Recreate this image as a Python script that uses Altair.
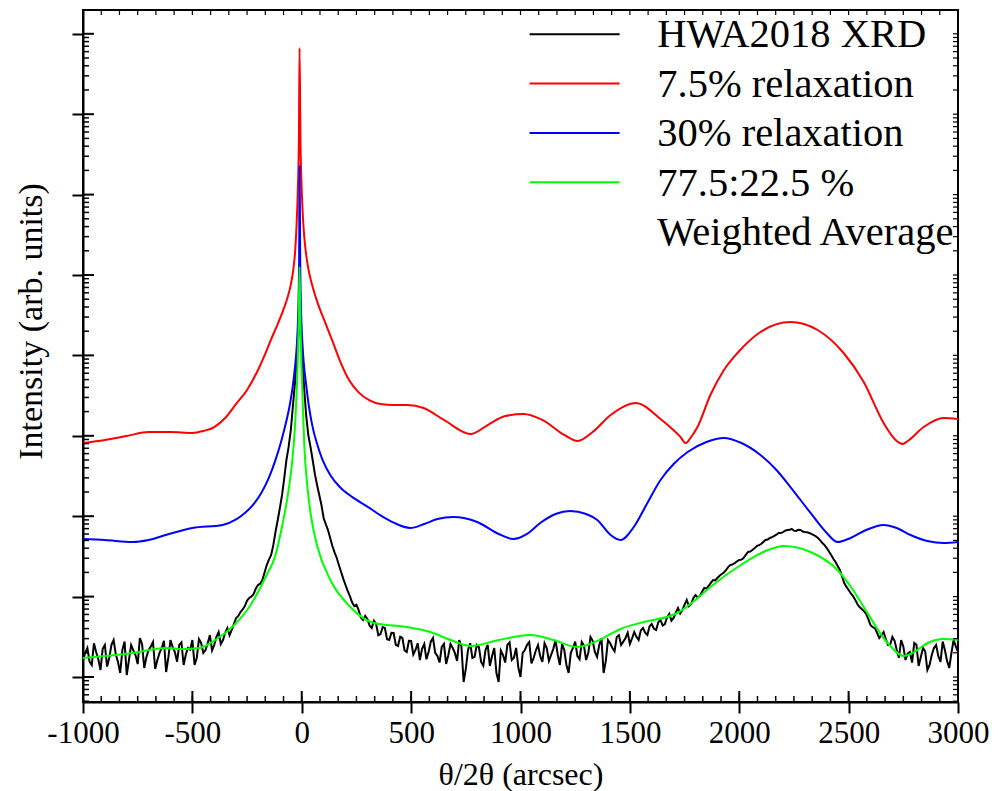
import altair as alt
import pandas as pd

FONT = "Liberation Serif"

# ---------------- data (log10 of intensity, arb. units) ----------------
# measured trace, sampled on even grid points ...
black_x = list(range(-1000, -99, 20)) + list(range(-90, 91, 10)) + list(range(100, 3001, 20))
black_log = [
    1.211, 1.361, 1.149, 1.311, 1.087, 1.398, 1.236, 1.460, 1.187, 1.336,
    1.025, 1.398, 1.274, 1.485, 1.112, 1.336, 1.435, 1.211, 1.361, 1.062,
    1.460, 1.311, 1.398, 1.149, 1.361, 1.460, 1.236, 1.423, 1.336, 1.522,
    1.398, 1.560, 1.460, 1.609, 1.585, 1.734, 1.808, 1.883, 1.983, 2.032,
    2.144, 2.206, 2.393, 2.517, 2.803, 3.102,
    # -90 .. 90
    3.264, 3.475, 3.699, 3.861, 4.072, 4.383, 4.694, 5.067, 5.415, 5.129,
    4.632, 4.259, 4.010, 3.861, 3.699, 3.525, 3.388, 3.264, 3.139,
    # 100 .. 3000
    2.978, 2.828, 2.629, 2.480, 2.306, 2.144, 2.007, 1.883, 1.833, 1.709,
    1.721, 1.609, 1.659, 1.535, 1.609, 1.460, 1.547, 1.386, 1.485, 1.311,
    1.448, 1.336, 1.211, 1.410, 1.311, 1.485, 1.261, 1.373, 1.162, 1.410,
    1.299, 1.460, 0.938, 1.336, 1.236, 1.398, 1.187, 1.336, 1.137, 1.361,
    0.938, 1.274, 1.398, 1.211, 1.361, 1.000, 1.336, 1.435, 1.236, 1.398,
    1.187, 1.361, 1.274, 1.460, 1.149, 1.336, 1.050, 1.361, 1.261, 1.435,
    1.211, 1.498, 1.311, 1.398, 1.050, 1.460, 1.361, 1.498, 1.398, 1.485,
    1.410, 1.560, 1.460, 1.609, 1.522, 1.659, 1.585, 1.709, 1.659, 1.784,
    1.734, 1.858, 1.833, 1.958, 1.908, 2.020, 2.007, 2.107, 2.132, 2.206,
    2.231, 2.281, 2.331, 2.393, 2.418, 2.455, 2.480, 2.555, 2.580, 2.629,
    2.654, 2.704, 2.729, 2.754, 2.791, 2.803, 2.828, 2.841, 2.816, 2.828,
    2.803, 2.791, 2.766, 2.729, 2.667, 2.604, 2.517, 2.430, 2.331, 2.169,
    2.082, 2.007, 1.908, 1.846, 1.784, 1.647, 1.609, 1.485, 1.560, 1.398,
    1.498, 1.336, 1.460, 1.211, 1.311, 1.423, 1.137, 1.361, 1.087, 1.274,
    1.398, 1.187, 1.336, 1.112, 1.460, 1.311,
]
# ... and on the points in between
black_mid_x = list(range(-990, -109, 20)) + list(range(110, 2991, 20))
black_mid_log = [
    1.30, 1.19, 1.42, 1.22, 1.35, 1.13, 1.40, 1.28, 1.05, 1.44,
    1.21, 1.33, 1.16, 1.41, 1.25, 1.38, 1.10, 1.30, 1.45, 1.24,
    1.37, 1.19, 1.43, 1.28, 1.34, 1.15, 1.47, 1.30, 1.42, 1.33,
    1.50, 1.41, 1.55, 1.52, 1.66, 1.76, 1.84, 1.95, 2.00, 2.10,
    2.16, 2.30, 2.46, 2.64, 2.95,
    # 110 .. 2990
    2.90, 2.73, 2.55, 2.39, 2.22, 2.07, 1.93,
    1.90, 1.74, 1.76, 1.64, 1.70, 1.52, 1.62, 1.47, 1.55, 1.40, 1.50, 1.33, 1.45,
    1.28, 1.42, 1.35, 1.22, 1.44, 1.30, 1.18, 1.41, 1.27, 1.36,
    1.20, 1.38, 1.10, 1.42, 1.25, 1.37, 1.14, 1.40, 1.26, 1.05,
    1.33, 1.18, 1.43, 1.24, 1.12, 1.30, 1.40, 1.17, 1.33, 1.26,
    1.42, 1.20, 1.35, 1.28, 1.41, 1.15, 1.30, 1.44, 1.22, 1.39,
    1.30, 1.45, 1.25, 1.48, 1.20, 1.42, 1.32, 1.52, 1.44, 1.55,
    1.48, 1.50, 1.58, 1.55, 1.63, 1.60, 1.68, 1.64, 1.74, 1.70,
    1.80, 1.79, 1.90, 1.88, 1.98, 1.99, 2.06, 2.10, 2.17, 2.20,
    2.26, 2.30, 2.37, 2.40, 2.44, 2.46, 2.52, 2.56, 2.60, 2.64,
    2.68, 2.71, 2.74, 2.77, 2.79, 2.82, 2.83, 2.82, 2.83, 2.81,
    2.80, 2.78, 2.75, 2.70, 2.64, 2.56, 2.47, 2.38, 2.25, 2.12,
    2.04, 1.96, 1.87, 1.82, 1.72, 1.62, 1.55, 1.52, 1.47, 1.40,
    1.45, 1.24, 1.38, 1.29, 1.18, 1.40, 1.25, 1.32, 1.15, 1.36,
    1.26, 1.44, 1.20, 1.30, 1.38,
]

red_x = [-1000, -900, -800, -700, -600, -500, -450, -400, -350, -300,
         -250, -200, -170, -140, -110, -85, -65, -50, -38, -30,
         -24, -18, -13, -10, -6, 0, 8, 18, 30, 45,
         62, 85, 110, 140, 175, 215, 260, 310, 360, 420,
         483, 557, 650, 772, 850, 930, 1015, 1100, 1200, 1261,
         1330, 1412, 1526, 1640, 1700, 1730, 1755, 1780, 1809, 1868,
         1930, 1992, 2097, 2234, 2358, 2477, 2569, 2660, 2720, 2747,
         2770, 2843, 2935, 3000]
red_log = [3.910, 3.948, 3.998, 4.047, 4.047, 4.035, 4.060, 4.109, 4.221, 4.396,
           4.570, 4.818, 5.000, 5.200, 5.390, 5.560, 5.720, 5.880, 6.080, 6.300,
           6.600, 7.050, 7.700, 8.823, 7.700, 7.050, 6.600, 6.300, 6.080, 5.900,
           5.740, 5.560, 5.390, 5.180, 4.930, 4.700, 4.540, 4.440, 4.395, 4.383,
           4.383, 4.346, 4.197, 4.022, 4.134, 4.246, 4.271, 4.197, 4.010, 3.935,
           4.047, 4.259, 4.408, 4.210, 4.070, 3.990, 3.910, 3.985, 4.109, 4.507,
           4.818, 5.030, 5.291, 5.415, 5.316, 5.030, 4.669, 4.159, 3.935, 3.898,
           3.935, 4.109, 4.221, 4.209]

blue_x = [-1000, -900, -773, -700, -622, -500, -362, -300, -260, -220,
          -185, -150, -120, -95, -75, -55, -40, -30, -22, -16,
          -12, -10, -7, -3, 3, 10, 20, 32, 48, 70,
          95, 131, 175, 230, 300, 360, 420, 496, 560, 620,
          693, 802, 900, 967, 1030, 1090, 1160, 1227, 1300, 1351,
          1412, 1457, 1518, 1580, 1640, 1700, 1764, 1850, 1929, 2010,
          2097, 2170, 2234, 2326, 2400, 2449, 2509, 2580, 2660, 2720,
          2783, 2860, 2935, 3000]
blue_log = [2.716, 2.704, 2.679, 2.704, 2.766, 2.853, 2.891, 2.960, 3.040, 3.150,
            3.290, 3.480, 3.700, 3.920, 4.130, 4.380, 4.640, 4.880, 5.150, 5.550,
            6.150, 7.356, 6.150, 5.550, 5.150, 4.880, 4.640, 4.380, 4.130, 3.900,
            3.700, 3.510, 3.360, 3.240, 3.120, 3.010, 2.920, 2.853, 2.903, 2.965,
            2.990, 2.928, 2.779, 2.716, 2.779, 2.915, 3.027, 3.065, 3.027, 2.953,
            2.766, 2.704, 2.866, 3.164, 3.450, 3.649, 3.799, 3.923, 3.973, 3.910,
            3.761, 3.575, 3.363, 3.040, 2.791, 2.679, 2.729, 2.828, 2.891, 2.853,
            2.766, 2.692, 2.667, 2.679]

green_x = [-1000, -900, -773, -622, -545, -467, -395, -318, -240, -165,
           -120, -87, -60, -43, -32, -24, -18, -14, -10, -6,
           -2, 4, 12, 25, 40, 72, 131, 222, 330, 483,
           588, 680, 772, 900, 1046, 1150, 1261, 1360, 1412, 1457,
           1564, 1717, 1800, 1868, 2021, 2120, 2204, 2326, 2449, 2520,
           2569, 2678, 2752, 2800, 2861, 2935, 3000]
green_log = [1.236, 1.261, 1.299, 1.361, 1.348, 1.361, 1.460, 1.622, 1.871, 2.244,
             2.517, 2.915, 3.326, 3.699, 4.072, 4.500, 4.950, 5.400, 6.100, 5.400,
             4.950, 4.450, 3.861, 3.388, 3.040, 2.617, 2.206, 1.871, 1.672, 1.622,
             1.560, 1.460, 1.386, 1.460, 1.522, 1.460, 1.373, 1.460, 1.535, 1.597,
             1.684, 1.796, 1.958, 2.119, 2.418, 2.567, 2.629, 2.555, 2.331, 2.082,
             1.871, 1.423, 1.261, 1.311, 1.423, 1.473, 1.460]

series_names = ["HWA2018 XRD", "7.5% relaxation", "30% relaxation", "77.5:22.5 %"]
series_colors = ["#000000", "#ff0000", "#0000ff", "#00ff00"]
legend_extra = "Weighted Average"

x_tick_values = [-1000, -500, 0, 500, 1000, 1500, 2000, 2500, 3000]
y_decades = [10 ** n for n in range(1, 10)]

# ---------------- scales / axes ----------------
W, H = 875, 692
Y_LO, Y_HI = 10 ** 0.689, 10 ** 9.296

xscale = alt.Scale(domain=[-1000, 3000], nice=False, zero=False)
yscale = alt.Scale(type="log", domain=[Y_LO, Y_HI], nice=False)

xaxis = alt.Axis(values=x_tick_values, title="θ/2θ (arcsec)", tickSize=11, tickWidth=2,
                 tickColor="black", domainColor="black", domainWidth=2, grid=False,
                 labelFont=FONT, labelFontSize=31, labelColor="black", labelPadding=5,
                 labelExpr="'' + datum.value", labelFlush=False, labelOverlap=False,
                 titleFont=FONT, titleFontSize=32, titleFontWeight="normal", titleColor="black",
                 titleY=82, titleBaseline="alphabetic")
yaxis = alt.Axis(values=y_decades, labels=False, title="Intensity (arb. units)", tickSize=11,
                 tickWidth=2, tickColor="black", domainColor="black", domainWidth=2, grid=False,
                 titleFont=FONT, titleFontSize=34, titleFontWeight="normal", titleColor="black",
                 titleAngle=270, titleX=-42, titleY=311, titleBaseline="alphabetic",
                 titleAlign="center")


def series_df(xs, logs):
    df = pd.DataFrame({"x": xs, "intensity": [10 ** v for v in logs]})
    return df.sort_values("x").reset_index(drop=True)


def line_layer(xs, logs, color, interp):
    return alt.Chart(series_df(xs, logs)).mark_line(
        color=color, strokeWidth=2, interpolate=interp, clip=True
    ).encode(
        x=alt.X("x:Q", scale=xscale, axis=xaxis),
        y=alt.Y("intensity:Q", scale=yscale, axis=yaxis),
    )


layers = [
    line_layer(black_x + black_mid_x, black_log + black_mid_log, series_colors[0], "linear"),
    line_layer(red_x, red_log, series_colors[1], "monotone"),
    line_layer(blue_x, blue_log, series_colors[2], "monotone"),
    line_layer(green_x, green_log, series_colors[3], "monotone"),
]

# ---------------- extra (inward / minor) ticks ----------------
y_minor = [m * 10 ** n for n in range(0, 10) for m in range(2, 10) if Y_LO <= m * 10 ** n <= Y_HI]
x_minor = [-1000 + 500 * i / 6 for i in range(49)]


def ytick(vals, x0, x1, w):
    return alt.Chart(pd.DataFrame({"v": vals})).mark_rule(color="black", strokeWidth=w).encode(
        y=alt.Y("v:Q", scale=yscale, axis=yaxis), x=alt.value(x0), x2=alt.value(x1))


def xtick(vals, y0, y1, w):
    return alt.Chart(pd.DataFrame({"v": vals})).mark_rule(color="black", strokeWidth=w).encode(
        x=alt.X("v:Q", scale=xscale, axis=xaxis), y=alt.value(y0), y2=alt.value(y1))


layers += [
    ytick(y_decades, 0, 11, 2),
    ytick(y_minor, 0, 6, 1.5),
    ytick(y_decades + y_minor, W, W - 5, 1.2),
    xtick(x_tick_values, H, H - 11, 2),
    xtick(x_minor, H, H - 6, 1.5),
    xtick(x_minor, 0, 5, 1.2),
]

# ---------------- legend ----------------
LEG_X0, LEG_X1, LEG_TX = 446.6, 536.6, 574.3
for i, (name, col) in enumerate(zip(series_names, series_colors)):
    one = pd.DataFrame({"label": [name]})
    layers.append(alt.Chart(one).mark_rule(color=col, strokeWidth=2).encode(
        x=alt.value(LEG_X0), x2=alt.value(LEG_X1), y=alt.value(24.3 + 49.3 * i)))
for i, name in enumerate(series_names + [legend_extra]):
    one = pd.DataFrame({"label": [name]})
    layers.append(alt.Chart(one).mark_text(
        font=FONT, fontSize=40.5, color="black", align="left", baseline="alphabetic"
    ).encode(x=alt.value(LEG_TX), y=alt.value(37.3 + 49.4 * i), text="label:N"))

chart = alt.layer(*layers).properties(
    width=W, height=H,
    autosize=alt.AutoSizeParams(type="none"),
    padding={"left": 83, "top": 10, "right": 40, "bottom": 89},
).configure_view(stroke="black", strokeWidth=2)

chart.save("out.html", embed_options={"renderer": "svg", "actions": False})
